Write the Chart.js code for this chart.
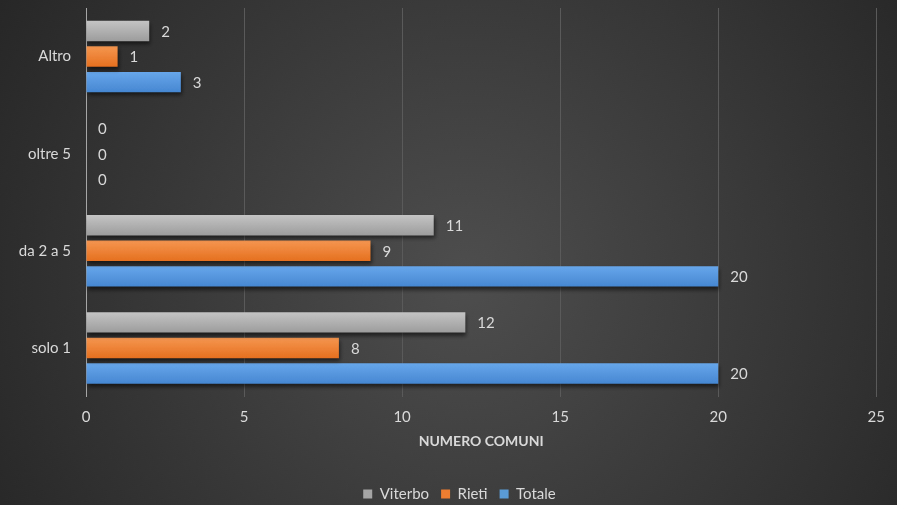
<!DOCTYPE html>
<html>
<head>
<meta charset="utf-8">
<script src="https://cdn.jsdelivr.net/npm/chart.js@4"></script>
<style>
html,body{margin:0;padding:0;background:#333;}
#wrap{width:897px;height:505px;position:relative;}
</style>
</head>
<body>
<div id="wrap"><canvas id="c" width="897" height="505"></canvas></div>
<script>
const categories = ["Altro", "oltre 5", "da 2 a 5", "solo 1"];
const viterbo = [2, 0, 11, 12];
const rieti = [1, 0, 9, 8];
const totale = [3, 0, 20, 20];
const xTicks = [0, 5, 10, 15, 20, 25];
const seriesNames = ["Viterbo", "Rieti", "Totale"];

const FONT = "Lato, 'Open Sans', sans-serif";
const TXT = "#d9d9d9";
const grads = [["#c4c4c4", "#9c9c9c"], ["#f59650", "#e5701f"], ["#67a6ea", "#4687d2"]];
const solid = ["#a5a5a5", "#ed7d31", "#5b9bd5"];

const bgPlugin = {
  id: "bg",
  beforeDraw(chart) {
    const ctx = chart.ctx, w = chart.width, h = chart.height;
    ctx.save();
    const g = ctx.createRadialGradient(w * 0.52, h * 0.55, 10, w * 0.52, h * 0.55, w * 0.62);
    g.addColorStop(0, "#4d4d4d");
    g.addColorStop(1, "#262626");
    ctx.fillStyle = g;
    ctx.fillRect(0, 0, w, h);
    ctx.restore();
  }
};

const legendShift = {
  id: "legendShift",
  afterLayout(chart) {
    if (chart.legend) { chart.legend.left += 20; chart.legend.right += 20; }
  }
};

const barStyle = {
  id: "barStyle",
  beforeDatasetsDraw(chart) {
    const ctx = chart.ctx;
    chart.data.datasets.forEach((ds, i) => {
      chart.getDatasetMeta(i).data.forEach(el => {
        const top = el.y - el.height / 2, bot = el.y + el.height / 2;
        const g = ctx.createLinearGradient(0, top, 0, bot);
        g.addColorStop(0, grads[i][0]);
        g.addColorStop(1, grads[i][1]);
        el.options = Object.assign({}, el.options, { backgroundColor: g });
      });
    });
    ctx.save();
    ctx.shadowColor = "rgba(0,0,0,0.55)";
    ctx.shadowOffsetX = 1;
    ctx.shadowOffsetY = 3;
    ctx.shadowBlur = 4;
  },
  afterDatasetsDraw(chart) {
    const ctx = chart.ctx;
    ctx.restore();
    ctx.save();
    ctx.font = "15px " + FONT;
    ctx.fillStyle = TXT;
    ctx.textAlign = "left";
    ctx.textBaseline = "middle";
    chart.data.datasets.forEach((ds, i) => {
      chart.getDatasetMeta(i).data.forEach((el, j) => {
        ctx.fillText(String(ds.data[j]), el.x + 12, el.y + 1);
      });
    });
    ctx.restore();
  }
};

new Chart(document.getElementById("c"), {
  type: "bar",
  data: {
    labels: categories,
    datasets: [
      { label: seriesNames[0], data: viterbo, backgroundColor: solid[0] },
      { label: seriesNames[1], data: rieti, backgroundColor: solid[1] },
      { label: seriesNames[2], data: totale, backgroundColor: solid[2] }
    ]
  },
  options: {
    indexAxis: "y",
    responsive: false,
    animation: false,
    events: [],
    categoryPercentage: 0.79,
    barPercentage: 0.8,
    layout: { padding: { top: 8, right: 18, left: 0, bottom: -6.5 } },
    scales: {
      x: {
        min: 0, max: 25,
        afterBuildTicks(s) { s.ticks = xTicks.map(v => ({ value: v })); },
        afterFit(s) { s.height = 78; },
        grid: { color: "#5a5a5a", drawTicks: false, lineWidth: 1 },
        border: { display: false },
        ticks: { color: TXT, font: { family: FONT, size: 15 }, padding: 12 },
        title: { display: true, text: "NUMERO COMUNI", color: TXT, font: { family: FONT, size: 14, weight: "bold" }, padding: { top: 4, bottom: 25 } }
      },
      y: {
        afterFit(s) { s.width = 86; s.paddingTop = 0; s.paddingBottom = 0; },
        grid: { display: false, drawTicks: false },
        border: { display: true, color: "#a6a6a6", width: 1 },
        ticks: { color: TXT, font: { family: FONT, size: 15 }, padding: 15 }
      }
    },
    plugins: {
      legend: {
        position: "bottom",
        fullSize: true,
        labels: {
          color: TXT,
          font: { family: FONT, size: 15 },
          usePointStyle: true,
          pointStyle: "rect",
          boxWidth: 9,
          boxHeight: 9,
          padding: 12
        }
      },
      tooltip: { enabled: false }
    }
  },
  plugins: [bgPlugin, legendShift, barStyle]
});
</script>
</body>
</html>
